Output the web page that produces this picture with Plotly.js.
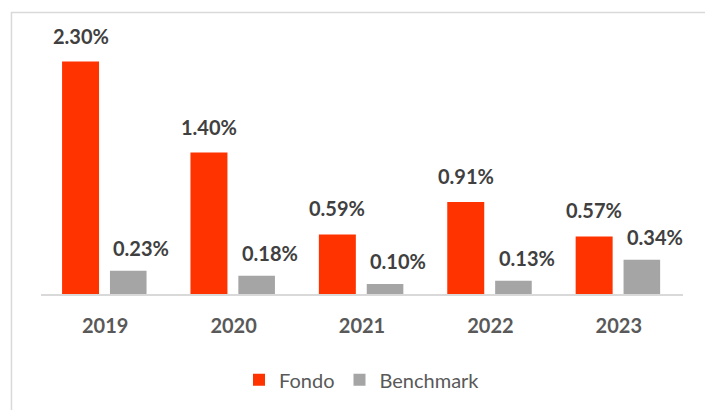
<!DOCTYPE html>
<html>
<head>
<meta charset="utf-8">
<script src="https://cdn.plot.ly/plotly-3.0.1.min.js"></script>
<style>
html,body{margin:0;padding:0;background:#fff;}
#chart{width:705px;height:410px;}
</style>
</head>
<body>
<div id="chart"></div>
<script>
var years = ['2019', '2020', '2021', '2022', '2023'];
var fondo = [2.30, 1.40, 0.59, 0.91, 0.57];
var benchmark = [0.23, 0.18, 0.10, 0.13, 0.34];
var seriesNames = ['Fondo', 'Benchmark'];

var fmt = function (v) { return v.toFixed(2) + '%'; };

var traces = [
  {
    type: 'bar', name: seriesNames[0], x: years, y: fondo,
    marker: {color: '#FF3300'}, width: 0.288, offset: -0.336,
    hoverinfo: 'x+y'
  },
  {
    type: 'bar', name: seriesNames[1], x: years, y: benchmark,
    marker: {color: '#A5A5A5'}, width: 0.285, offset: 0.037,
    hoverinfo: 'x+y'
  }
];

var labelFont = {family: 'Lato, Carlito, sans-serif', size: 20, color: '#404040', weight: 'bold'};
var annotations = [];
years.forEach(function (yr, i) {
  annotations.push({
    x: i, y: fondo[i], xref: 'x', yref: 'y', text: fmt(fondo[i]),
    showarrow: false, yanchor: 'bottom', xanchor: 'center',
    xshift: -0.192 * 128.4, yshift: 12, font: labelFont
  });
  annotations.push({
    x: i, y: benchmark[i], xref: 'x', yref: 'y', text: fmt(benchmark[i]),
    showarrow: false, yanchor: 'bottom', xanchor: 'center',
    xshift: 0.18 * 128.4 + 13, yshift: 9, font: labelFont
  });
});

var layout = {
  width: 705, height: 410,
  margin: {l: 41, r: 22, t: 30, b: 115, pad: 0},
  paper_bgcolor: '#ffffff', plot_bgcolor: '#ffffff',
  barmode: 'group',
  showlegend: true,
  xaxis: {
    type: 'category', range: [-0.5, 4.5], autorange: false,
    showgrid: false, zeroline: false,
    showline: true, linecolor: '#D9D9D9', linewidth: 1.5,
    ticks: '', ticklabelstandoff: 13,
    tickfont: {family: 'Lato, Carlito, sans-serif', size: 20, color: '#595959', weight: 'bold'},
    fixedrange: true
  },
  yaxis: {
    range: [0, 2.613], autorange: false, visible: false, showgrid: false, zeroline: false, fixedrange: true
  },
  legend: {
    orientation: 'h', x: 0.5, xanchor: 'center', y: -0.32, yanchor: 'middle',
    font: {family: 'Lato, Carlito, sans-serif', size: 20, color: '#595959'},
    itemclick: false, itemdoubleclick: false
  },
  annotations: annotations,
  shapes: [{
    type: 'rect', xref: 'paper', yref: 'paper',
    x0: -0.046, x1: 1.04, y0: -0.45, y1: 1.066,
    line: {color: '#D9D9D9', width: 1.5}, fillcolor: 'rgba(0,0,0,0)', layer: 'below'
  }]
};

Plotly.newPlot('chart', traces, layout, {displayModeBar: false, staticPlot: true});
</script>
</body>
</html>
